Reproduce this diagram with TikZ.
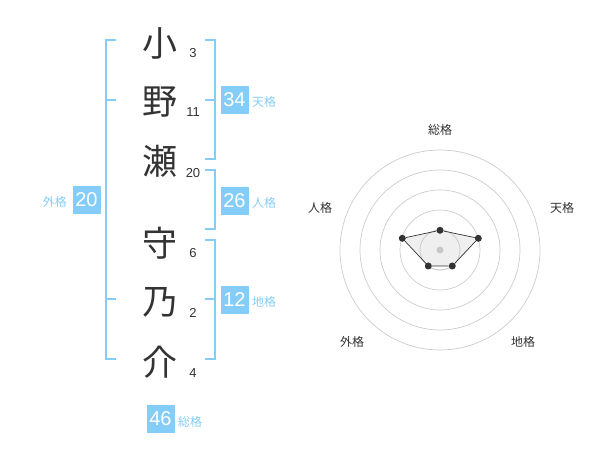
\documentclass[tikz,border=0pt]{standalone}
\usepackage{fontspec}
\setmainfont{Liberation Sans}
\newfontfamily\cjk{Noto Sans CJK JP}
\definecolor{kblue}{HTML}{85CDF9}
\definecolor{ktext}{HTML}{333333}
\definecolor{kgrid}{HTML}{CCCCCC}
\begin{document}
\begin{tikzpicture}[x=1pt,y=-1pt,
  bigch/.style={font=\cjk\fontsize{35}{35}\selectfont, text=ktext, inner sep=0pt},
  stroke/.style={font=\fontsize{13}{13}\selectfont, text=ktext, inner sep=0pt},
  numbox/.style={fill=kblue, text=white, minimum width=28pt, minimum height=28pt, inner sep=0pt, font=\fontsize{20}{20}\selectfont},
  kaku/.style={font=\cjk\fontsize{12}{12}\selectfont, text=kblue, inner sep=0pt},
  brk/.style={draw=kblue, line width=2pt},
  rlab/.style={font=\cjk\fontsize{12}{12}\selectfont, text=ktext, inner sep=0pt},
  ring/.style={draw=kgrid, line width=0.7pt},
  pt/.style={circle, fill=ktext, minimum size=7pt, inner sep=0pt}]
\useasboundingbox (0,0) rectangle (600,470);
% name characters
\node[bigch] (c1) at (160,43) {小};
\node[bigch] (c2) at (160,102) {野};
\node[bigch] (c3) at (160,161) {瀬};
\node[bigch] (c4) at (160,243) {守};
\node[bigch] (c5) at (160,302) {乃};
\node[bigch] (c6) at (160,362) {介};
\node[stroke] (s1) at (193,53) {3};
\node[stroke] (s2) at (193,112) {11};
\node[stroke] (s3) at (193,173) {20};
\node[stroke] (s4) at (193,253) {6};
\node[stroke] (s5) at (193,313) {2};
\node[stroke] (s6) at (193,373) {4};
% brackets
\draw[brk] (116,40) -- (105.5,40) -- (105.5,359) -- (116,359);
\draw[brk] (105.5,100) -- (116,100);
\draw[brk] (105.5,299) -- (116,299);
\draw[brk] (205,40) -- (214.5,40) -- (214.5,159) -- (205,159);
\draw[brk] (205,100) -- (214.5,100);
\draw[brk] (205,170) -- (214.5,170) -- (214.5,229.5) -- (205,229.5);
\draw[brk] (205,240) -- (214.5,240) -- (214.5,359) -- (205,359);
\draw[brk] (205,299) -- (214.5,299);
% boxes
\node[numbox] (ten) at (234.5,100) {34};
\node[kaku, anchor=west] (tenl) at (252,102) {天格};
\node[numbox] (jin) at (234.5,201) {26};
\node[kaku, anchor=west] (jinl) at (252,203) {人格};
\node[numbox] (chi) at (234.5,300) {12};
\node[kaku, anchor=west] (chil) at (252,302) {地格};
\node[numbox] (gai) at (86.5,200) {20};
\node[kaku, anchor=east] (gail) at (67,202) {外格};
\node[numbox] (sou) at (160.5,419) {46};
\node[kaku, anchor=west] (soul) at (178,422) {総格};
% radar
\coordinate (o) at (440,250);
\foreach \r in {20,40,60,80,100} \draw[ring] (o) circle[radius=\r];
\fill[black!8, opacity=0.8] (440,230.3) -- (478.3,238.3) -- (452.3,266) -- (428.3,266) -- (402.3,238.3) -- cycle;
\draw[ring] (o) circle[radius=20];
\fill[black!22] (o) circle[radius=3.5];
\node[pt] (p1) at (440,230.3) {};
\node[pt] (p2) at (478.3,238.3) {};
\node[pt] (p3) at (452.3,266) {};
\node[pt] (p4) at (428.3,266) {};
\node[pt] (p5) at (402.3,238.3) {};
\draw[ktext, line width=0.7pt] (p1) -- (p2) -- (p3) -- (p4) -- (p5) -- (p1);
\node[rlab] (l1) at (440,130) {総格};
\node[rlab] (l2) at (562,208) {天格};
\node[rlab] (l3) at (320,208) {人格};
\node[rlab] (l4) at (352,342) {外格};
\node[rlab] (l5) at (523,342) {地格};
\end{tikzpicture}
\end{document}
